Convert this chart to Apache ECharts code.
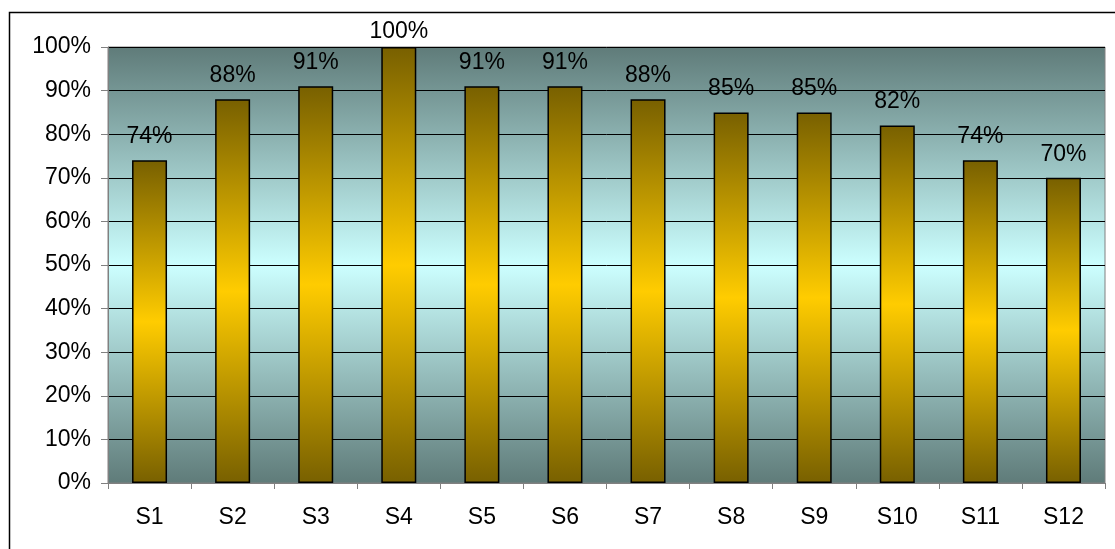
<!DOCTYPE html>
<html>
<head>
<meta charset="utf-8">
<script src="https://cdn.jsdelivr.net/npm/echarts@6/dist/echarts.min.js"></script>
<style>
html,body{margin:0;padding:0;background:#fff;}
#c{width:1115px;height:549px;}
</style>
</head>
<body>
<div id="c"></div>
<script>
const categories = ['S1','S2','S3','S4','S5','S6','S7','S8','S9','S10','S11','S12'];
const values = [74, 88, 91, 100, 91, 91, 88, 85, 85, 82, 74, 70];
const yTicks = {min: 0, max: 100, interval: 10};

const FONT = '"Liberation Sans", Arial, sans-serif';
const FS = 23;
const chart = echarts.init(document.getElementById('c'), null, {renderer: 'canvas'});

const barGradient = new echarts.graphic.LinearGradient(0, 0, 0, 1, [
  {offset: 0, color: '#786000'},
  {offset: 0.5, color: '#ffcc00'},
  {offset: 1, color: '#786000'}
]);
const bgGradient = new echarts.graphic.LinearGradient(0, 0, 0, 1, [
  {offset: 0, color: '#5f7b79'},
  {offset: 0.5, color: '#ccffff'},
  {offset: 1, color: '#5f7b79'}
]);

const seriesData = values.map(v => v === yTicks.max ? {value: v, label: {distance: 4}} : v);

chart.setOption({
  animation: false,
  graphic: [{
    type: 'rect',
    left: 7, top: 10,
    shape: {width: 1130, height: 560},
    style: {fill: 'none', stroke: '#000', lineWidth: 1.5},
    silent: true
  }],
  grid: {
    left: 108, right: 10, top: 47, bottom: 66,
    show: true,
    backgroundColor: bgGradient,
    borderColor: '#808080',
    borderWidth: 1
  },
  xAxis: {
    type: 'category',
    data: categories,
    boundaryGap: true,
    axisLine: {lineStyle: {color: '#808080', width: 1}},
    axisTick: {show: true, length: 6, lineStyle: {color: '#808080'}},
    axisLabel: {color: '#000', fontSize: FS, fontFamily: FONT, margin: 23}
  },
  yAxis: {
    type: 'value',
    min: yTicks.min, max: yTicks.max, interval: yTicks.interval,
    axisLine: {show: true, lineStyle: {color: '#808080', width: 1}},
    axisTick: {show: true, length: 7, lineStyle: {color: '#808080'}},
    axisLabel: {color: '#000', fontSize: FS, fontFamily: FONT, margin: 17, formatter: '{value}%'},
    splitLine: {show: true, lineStyle: {color: '#000', width: 1}}
  },
  series: [{
    type: 'bar',
    data: seriesData,
    barWidth: 35,
    itemStyle: {color: barGradient, borderColor: '#000', borderWidth: 1.5},
    label: {
      show: true, position: 'top', distance: 12,
      color: '#000', fontSize: FS, fontFamily: FONT,
      formatter: '{c}%'
    }
  }]
});
</script>
</body>
</html>
